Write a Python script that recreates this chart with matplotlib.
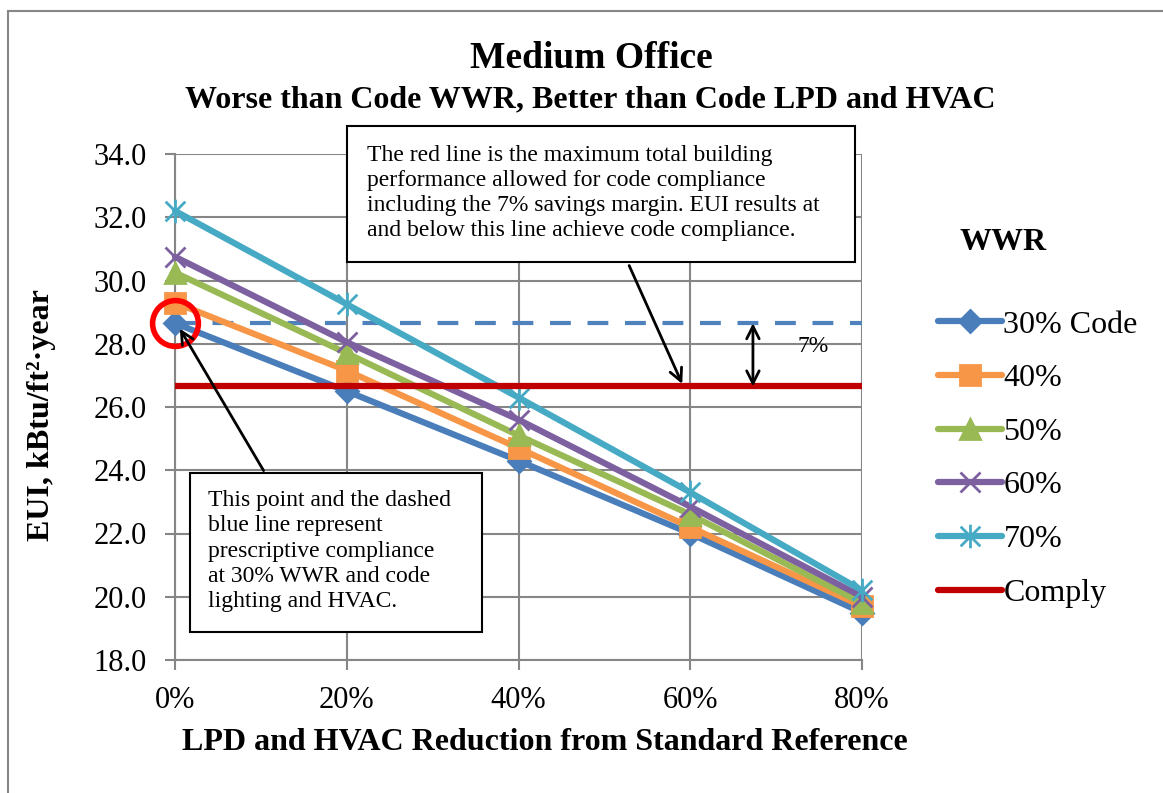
import numpy as np
import matplotlib
matplotlib.use('Agg')
import matplotlib.pyplot as plt
from matplotlib.path import Path
from matplotlib.patches import Rectangle

plt.rcParams['font.family'] = 'Liberation Serif'

# data
reduction = [0, 20, 40, 60, 80]
tick_labels = ['0%', '20%', '40%', '60%', '80%']
wwr_labels = ['30% Code', '40%', '50%', '60%', '70%']
eui_30 = [28.65, 26.5, 24.3, 22.0, 19.5]
eui_40 = [29.3, 27.15, 24.7, 22.2, 19.7]
eui_50 = [30.25, 27.7, 25.1, 22.6, 19.8]
eui_60 = [30.75, 28.05, 25.6, 22.85, 20.0]
eui_70 = [32.2, 29.25, 26.3, 23.3, 20.2]
comply = 26.65

series = [eui_30, eui_40, eui_50, eui_60, eui_70]
colors = ['#4A7EBB', '#F79646', '#98B954', '#7D60A0', '#46AAC5']
star = Path([(-1, -1), (1, 1), (-1, 1), (1, -1), (0, -1.2), (0, 1.2)],
            [Path.MOVETO, Path.LINETO, Path.MOVETO, Path.LINETO, Path.MOVETO, Path.LINETO])
markers = ['D', 's', '^', 'x', star]
msizes = [11, 14, 14, 15, 17]

W, H = 1163, 793
fig = plt.figure(figsize=(W / 100, H / 100), dpi=100)

def fx(px):
    return px / W

def fy(py):
    return 1 - py / H

# outer frame of the chart area
fig.patches.append(Rectangle((fx(8), fy(H + 20)), 1.2, fy(11) - fy(H + 20), transform=fig.transFigure,
                             fill=False, edgecolor='#868686', lw=1.5))

ax = fig.add_axes([fx(175), fy(660), fx(862) - fx(175), fy(154) - fy(660)])

# horizontal reference lines
ax.plot([0, 80], [eui_30[0], eui_30[0]], color='#4F81BD', lw=3, dashes=(5, 4), zorder=3)
handles = []
for vals, c, m, ms, lab in zip(series, colors, markers, msizes, wwr_labels):
    h, = ax.plot(reduction, vals, color=c, lw=4.5, marker=m, markersize=ms,
                 markerfacecolor=c, markeredgecolor=c, markeredgewidth=2,
                 solid_capstyle='round', label=lab, clip_on=False, zorder=4)
    handles.append(h)
h, = ax.plot([0, 80], [comply, comply], color='#C00000', lw=4.5, solid_capstyle='round',
             label='Comply', zorder=5)
handles.append(h)

# red circle on the prescriptive point
ax.plot([reduction[0]], [eui_30[0]], marker='o', markersize=33, markerfacecolor='none',
        markeredgecolor='#FF0000', markeredgewidth=4, clip_on=False, zorder=6)

ax.set_xlim(0, 80)
ax.set_ylim(18, 34)
ax.set_xticks(reduction)
ax.set_xticklabels(tick_labels)
ax.set_yticks(np.arange(18, 34.1, 2))
ax.set_yticklabels(['%.1f' % v for v in np.arange(18, 34.1, 2)])
ax.grid(True, color='#868686', lw=1.5)
ax.set_axisbelow(True)
for s in ['top', 'right']:
    ax.spines[s].set_visible(False)
for s in ['left', 'bottom']:
    ax.spines[s].set_color('#868686')
    ax.spines[s].set_linewidth(1.5)
ax.tick_params(axis='both', colors='#868686', labelcolor='black', labelsize=22, length=7, width=1.5)
ax.tick_params(axis='y', pad=13.5)
ax.tick_params(axis='x', pad=12)

# titles and axis labels
fig.text(fx(591), fy(58), 'Medium Office', ha='center', va='center', fontsize=27, fontweight='bold')
fig.text(fx(590), fy(100), 'Worse than Code WWR, Better than Code LPD and HVAC',
         ha='center', va='center', fontsize=23, fontweight='bold')
fig.text(fx(545), fy(742), 'LPD and HVAC Reduction from Standard Reference',
         ha='center', va='center', fontsize=23, fontweight='bold')
fig.text(fx(42), fy(415), 'EUI, kBtu/ft\u00b2\u00b7year', ha='center', va='center',
         rotation=90, fontsize=23, fontweight='bold')

# legend
fig.text(fx(1003), fy(243), 'WWR', ha='center', va='center', fontsize=23, fontweight='bold')
fig.legend(handles=handles, loc='center left', bbox_to_anchor=(fx(938), fy(459)),
           frameon=False, fontsize=23, handlelength=2.0, handletextpad=0.05,
           labelspacing=0.76, borderpad=0, borderaxespad=0)

# text boxes
fig.patches.append(Rectangle((fx(347), fy(262)), fx(855) - fx(347), fy(126) - fy(262),
                             transform=fig.transFigure, facecolor='white', edgecolor='black', lw=1.5, zorder=10))
fig.text(fx(367), fy(193), 'The red line is the maximum total building\n'
         'performance allowed for code compliance\n'
         'including the 7% savings margin. EUI results at\n'
         'and below this line achieve code compliance.',
         ha='left', va='center', fontsize=17, linespacing=1.23, zorder=11)

fig.patches.append(Rectangle((fx(190), fy(632)), fx(482) - fx(190), fy(473) - fy(632),
                             transform=fig.transFigure, facecolor='white', edgecolor='black', lw=1.5, zorder=10))
fig.text(fx(208), fy(551), 'This point and the dashed\n'
         'blue line represent\n'
         'prescriptive compliance\n'
         'at 30% WWR and code\n'
         'lighting and HVAC.',
         ha='left', va='center', fontsize=17, linespacing=1.28, zorder=11)

# arrows
ax.annotate('', xy=(59.2, comply), xycoords='data', xytext=(fx(628), fy(263)), textcoords='figure fraction',
            arrowprops=dict(arrowstyle='->,head_length=0.9,head_width=0.45', color='black', lw=2), zorder=9)
ax.annotate('', xy=(0.4, eui_30[0] - 0.1), xycoords='data', xytext=(fx(265), fy(473)), textcoords='figure fraction',
            arrowprops=dict(arrowstyle='->,head_length=0.9,head_width=0.45', color='black', lw=2), zorder=9)
ax.annotate('', xy=(67.3, eui_30[0]), xytext=(67.3, comply),
            arrowprops=dict(arrowstyle='<->,head_length=0.9,head_width=0.45', color='black', lw=2,
                            shrinkA=0, shrinkB=0), zorder=9)
ax.text(74.3, 27.9, '7%', ha='center', va='center', fontsize=17)

fig.savefig('out.png', dpi=100)
